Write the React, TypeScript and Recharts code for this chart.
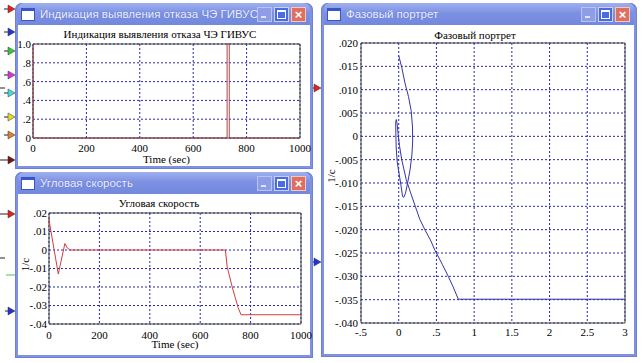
import React from 'react';
import { LineChart, Line, XAxis, YAxis, CartesianGrid, ReferenceArea, Label } from 'recharts';

const SERIF = "'Liberation Serif', 'DejaVu Serif', serif";
const SANS = "'Liberation Sans', Arial, sans-serif";
const GRID = '#2424b4';

// Индикация выявления отказа ЧЭ ГИВУС
const indTime = [0, 0, 727, 727, 735, 735, 1000];
const indValue = [1, 0, 0, 1, 1, 0, 0];
const indXTicks = [0, 200, 400, 600, 800, 1000];
const indYTicks = [0, 0.2, 0.4, 0.6, 0.8, 1];
const indYLabels = ['0', '.2', '.4', '.6', '.8', '1.0'];

// Угловая скорость
const velTime = [0, 4, 37, 63, 72, 83, 700, 707, 727, 750, 762, 1000];
const velValue = [0.0168, 0.013, -0.013, 0.0035, 0.0012, 0, 0, -0.009, -0.02, -0.031, -0.035, -0.035];
const velXTicks = [0, 200, 400, 600, 800, 1000];
const velYTicks = [-0.04, -0.03, -0.02, -0.01, 0, 0.01, 0.02];
const velYLabels = ['-.04', '-.03', '-.02', '-.01', '0', '.01', '.02'];

// Фазовый портрет
const phaseX = [0, 0.04, 0.083, 0.13, 0.165, 0.183, 0.185, 0.175, 0.15, 0.12, 0.09, 0.065, 0.05, 0.03, 0, -0.02,
  -0.033, -0.038, -0.04, -0.032, -0.022, -0.01, 0.01, 0.04, 0.1, 0.16, 0.22, 0.28, 0.35, 0.42, 0.48, 0.58, 0.66,
  0.72, 0.79, 3];
const phaseY = [0.0173, 0.0148, 0.0114, 0.0085, 0.0055, 0.002, -0.001, -0.004, -0.0072, -0.0098, -0.0122, -0.0131,
  -0.0128, -0.0105, -0.0075, -0.0055, -0.0025, 0.0005, 0.003, 0.0036, 0.0028, 0.0008, -0.002, -0.005, -0.0093,
  -0.0122, -0.015, -0.0178, -0.0201, -0.0222, -0.0244, -0.0275, -0.0301, -0.0322, -0.0349, -0.0349];
const phaseXTicks = [-0.5, 0, 0.5, 1, 1.5, 2, 2.5, 3];
const phaseXLabels = ['-.5', '0', '.5', '1', '1.5', '2', '2.5', '3'];
const phaseYTicks = [-0.04, -0.035, -0.03, -0.025, -0.02, -0.015, -0.01, -0.005, 0, 0.005, 0.01, 0.015, 0.02];
const phaseYLabels = ['-.040', '-.035', '-.030', '-.025', '-.020', '-.015', '-.010', '-.005', '0', '.005', '.010', '.015', '.020'];

const indData = indTime.map((t, i) => ({ t, v: indValue[i] }));
const velData = velTime.map((t, i) => ({ t, v: velValue[i] }));
const phaseData = phaseX.map((x, i) => ({ x, y: phaseY[i] }));

const tickStyle = { fill: '#000', fontSize: 11, fontFamily: SERIF };

// little port arrows around the windows
const ports = [
  { x: 15, y: 9, c: '#e8201c', from: 4 },
  { x: 15, y: 32, c: '#2233dd', from: 4 },
  { x: 15, y: 51, c: '#33cc33', from: 4 },
  { x: 15, y: 75, c: '#dd33dd', from: 4 },
  { x: 15, y: 93, c: '#44dddd', from: 4 },
  { x: 15, y: 117, c: '#e6dd22', from: 4 },
  { x: 15, y: 135, c: '#e68022', from: 4 },
  { x: 15, y: 160, c: '#7a1010', from: 0 },
  { x: 321, y: 88, c: '#e8201c', from: 313 },
  { x: 15, y: 214, c: '#e8201c', from: 0 },
  { x: 15, y: 311, c: '#2233dd', from: 5 },
  { x: 321, y: 262, c: '#2233dd', from: 313 },
];

const Win = ({ left, top, width, height, title }: any) => (
  <div style={{
    position: 'absolute', left, top, width, height, boxSizing: 'border-box',
    background: '#7f91e2', borderRadius: '7px 7px 0 0', padding: '0 3px 3px 3px',
    boxShadow: 'inset 0 0 0 1px #6f80d4',
  }}>
    <div style={{
      height: 22, display: 'flex', alignItems: 'center', position: 'relative',
      background: 'linear-gradient(#9fb0f0, #7d91e2 45%, #7288dc)', borderRadius: '6px 6px 0 0',
    }}>
      <div style={{ width: 12, height: 9, marginLeft: 3, background: '#fff', border: '1px solid #3a55c8', borderTopWidth: 3 }} />
      <span style={{ marginLeft: 5, color: '#eef0ff', fontFamily: SANS, fontSize: 11.5, fontWeight: 'normal', whiteSpace: 'nowrap', textShadow: '0 0 1px #5066c8' }}>{title}</span>
      <div style={{ position: 'absolute', right: 4, top: 4, display: 'flex', gap: 2 }}>
        <div style={{ width: 13, height: 13, background: '#8d9de6', border: '1px solid #b8c2f4', position: 'relative' }}>
          <div style={{ position: 'absolute', left: 3, bottom: 3, width: 5, height: 2, background: '#dfe4fb' }} />
        </div>
        <div style={{ width: 13, height: 13, background: '#4b6be0', border: '1px solid #c8d0f8', position: 'relative' }}>
          <div style={{ position: 'absolute', left: 2, top: 2, width: 7, height: 6, border: '1px solid #fff', borderTopWidth: 2 }} />
        </div>
        <div style={{ width: 13, height: 13, background: '#df6f60', border: '1px solid #f4c8c0', color: '#fff', fontFamily: SANS, fontSize: 13, fontWeight: 'bold', lineHeight: '13px', textAlign: 'center' }}>×</div>
      </div>
    </div>
    <div style={{ background: '#fff', height: height - 25 }} />
  </div>
);

const VLabel = ({ viewBox, text, dx, dy }: any) => {
  const cx = viewBox.x + dx;
  const cy = viewBox.y + viewBox.height / 2 + dy;
  return (
    <text x={cx} y={cy} transform={`rotate(-90 ${cx} ${cy})`} textAnchor="middle" dominantBaseline="central"
      fontFamily={SERIF} fontSize={11} fill="#000">{text}</text>
  );
};

const Title = ({ cx, cy, text }: any) => (
  <div style={{
    position: 'absolute', left: cx - 120, top: cy - 7, width: 240, height: 14, lineHeight: '14px',
    textAlign: 'center', fontFamily: SERIF, fontSize: 11, color: '#000', whiteSpace: 'nowrap',
  }}>{text}</div>
);

export default function App() {
  return (
    <div style={{ position: 'absolute', left: 0, top: 0, width: 642, height: 363, background: '#fff', overflow: 'hidden' }}>
      <svg width={642} height={363} style={{ position: 'absolute', left: 0, top: 0 }}>
        {ports.map((p, i) => (
          <g key={i}>
            <line x1={p.from} y1={p.y} x2={p.x - 5} y2={p.y} stroke="#222" strokeWidth={1} />
            <polygon points={`${p.x - 7},${p.y - 4} ${p.x},${p.y} ${p.x - 7},${p.y + 4}`} fill={p.c} stroke="#333" strokeWidth={0.5} />
          </g>
        ))}
        <line x1={0} y1={88} x2={5} y2={88} stroke="#222" />
        <line x1={0} y1={258} x2={5} y2={258} stroke="#222" />
        <line x1={6} y1={275} x2={16} y2={275} stroke="#44cc44" />
      </svg>

      <Win left={15} top={3} width={298} height={166} title="Индикация выявления отказа ЧЭ ГИВУС" />
      <Win left={15} top={172} width={298} height={186} title="Угловая скорость" />
      <Win left={321} top={3} width={316} height={354} title="Фазовый портрет" />

      <Title cx={160} cy={34} text="Индикация выявления отказа ЧЭ ГИВУС" />
      <Title cx={159} cy={203} text="Угловая скорость" />
      <Title cx={475} cy={35} text="Фазовый портрет" />

      <div style={{ position: 'absolute', left: 0, top: 24, width: 312, height: 146 }}>
        <LineChart width={312} height={146} data={indData} margin={{ top: 20, right: 12, bottom: 4, left: 0 }}>
          <CartesianGrid stroke={GRID} strokeDasharray="2 2" />
          <XAxis type="number" dataKey="t" domain={[0, 1000]} ticks={indXTicks} interval={0} tickLine={false}
            axisLine={false} tickSize={0} tickMargin={6} height={28} tick={tickStyle}>
            <Label value="Time (sec)" position="insideBottom" offset={3} fill="#000" fontSize={11} fontFamily={SERIF} />
          </XAxis>
          <YAxis type="number" domain={[0, 1]} ticks={indYTicks} interval={0} tickLine={false} axisLine={false}
            tickSize={0} tickMargin={2} width={33} tick={tickStyle} tickFormatter={(v: any, i: number) => indYLabels[i]} />
          <ReferenceArea x1={0} x2={1000} y1={0} y2={1} fill="none" stroke="#404040" ifOverflow="visible" />
          <Line type="linear" dataKey="v" stroke="#a84848" strokeWidth={1} dot={false} isAnimationActive={false} />
        </LineChart>
      </div>

      <div style={{ position: 'absolute', left: 0, top: 193, width: 312, height: 164 }}>
        <LineChart width={312} height={164} data={velData} margin={{ top: 20, right: 11, bottom: 4, left: 0 }}>
          <CartesianGrid stroke={GRID} strokeDasharray="2 2" />
          <XAxis type="number" dataKey="t" domain={[0, 1000]} ticks={velXTicks} interval={0} tickLine={false}
            axisLine={false} tickSize={0} tickMargin={7} height={29} tick={tickStyle}>
            <Label value="Time (sec)" position="insideBottom" offset={5} fill="#000" fontSize={11} fontFamily={SERIF} />
          </XAxis>
          <YAxis type="number" domain={[-0.04, 0.02]} ticks={velYTicks} interval={0} tickLine={false} axisLine={false}
            tickSize={0} tickMargin={2} width={49} tick={tickStyle} tickFormatter={(v: any, i: number) => velYLabels[i]}>
            <Label content={<VLabel text="1/c" dx={25} dy={-4} />} />
          </YAxis>
          <ReferenceArea x1={0} x2={1000} y1={-0.04} y2={0.02} fill="none" stroke="#404040" ifOverflow="visible" />
          <Line type="linear" dataKey="v" stroke="#d23c3c" strokeWidth={1} dot={false} isAnimationActive={false} />
        </LineChart>
      </div>

      <div style={{ position: 'absolute', left: 321, top: 25, width: 316, height: 331 }}>
        <LineChart width={316} height={331} data={phaseData} margin={{ top: 18, right: 12, bottom: 3, left: 0 }}>
          <CartesianGrid stroke={GRID} strokeDasharray="2 2" />
          <XAxis type="number" dataKey="x" domain={[-0.5, 3]} ticks={phaseXTicks} interval={0} tickLine={false}
            axisLine={false} tickSize={0} tickMargin={5} height={30} tick={tickStyle}
            tickFormatter={(v: any, i: number) => phaseXLabels[i]} />
          <YAxis type="number" domain={[-0.04, 0.02]} ticks={phaseYTicks} interval={0} tickLine={false} axisLine={false}
            tickSize={0} tickMargin={3} width={40} tick={tickStyle} tickFormatter={(v: any, i: number) => phaseYLabels[i]}>
            <Label content={<VLabel text="1/c" dx={10} dy={-7} />} />
          </YAxis>
          <ReferenceArea x1={-0.5} x2={3} y1={-0.04} y2={0.02} fill="none" stroke="#404040" ifOverflow="visible" />
          <Line type="linear" dataKey="y" stroke="#3434a8" strokeWidth={1} dot={false} isAnimationActive={false} />
        </LineChart>
      </div>
    </div>
  );
}
